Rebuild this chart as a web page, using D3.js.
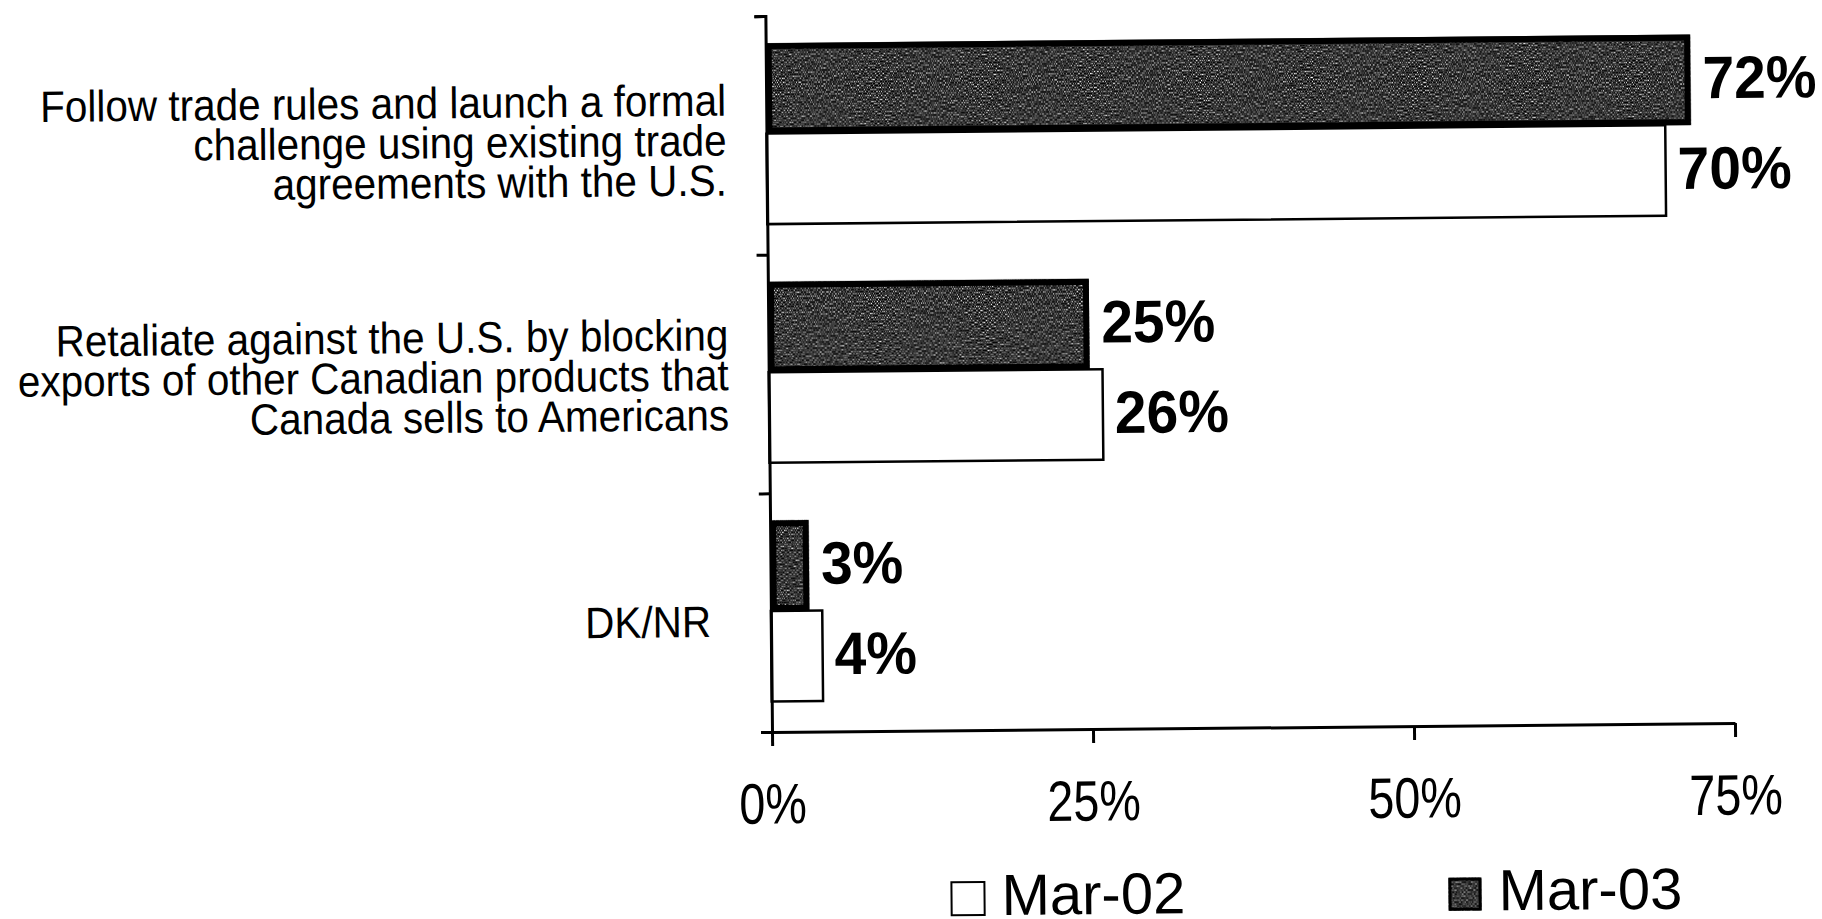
<!DOCTYPE html>
<html>
<head>
<meta charset="utf-8">
<script src="https://cdn.jsdelivr.net/npm/d3@7"></script>
<style>
  html, body { margin: 0; padding: 0; background: #fff; }
  svg { display: block; }
  text { font-family: "Liberation Sans", Arial, sans-serif; fill: #000; }
</style>
</head>
<body>
<svg id="chart" width="1822" height="919"></svg>
<script>
// ---- data ----
const categories = [
  "Follow trade rules and launch a formal|challenge using existing trade|agreements with the U.S.",
  "Retaliate against the U.S. by blocking|exports of other Canadian products that|Canada sells to Americans",
  "DK/NR"
];
const seriesNames = ["Mar-03", "Mar-02"];
const mar03 = [72, 25, 3];
const mar02 = [70, 26, 4];
const tickValues = [0, 25, 50, 75];
const legendItems = ["Mar-02", "Mar-03"];

// ---- layout ----
const plotL = 772, plotR = 1735, plotT = 16, plotB = 732;

const svg = d3.select("#chart");
const defs = svg.append("defs");
const f = defs.append("filter").attr("id", "grain")
  .attr("x", 0).attr("y", 0).attr("width", 1).attr("height", 1)
  .attr("color-interpolation-filters", "sRGB");
f.append("feTurbulence").attr("type", "fractalNoise")
  .attr("baseFrequency", "1.0 0.5").attr("numOctaves", 2).attr("seed", 7).attr("result", "t");
f.append("feColorMatrix").attr("in", "t").attr("type", "matrix")
  .attr("values", "0.6 0.4 0 0 0  0.6 0.4 0 0 0  0.6 0.4 0 0 0  0 0 0 0 1").attr("result", "g");
const ct = f.append("feComponentTransfer").attr("in", "g").attr("result", "c");
["feFuncR", "feFuncG", "feFuncB"].forEach(n =>
  ct.append(n).attr("type", "linear").attr("slope", 4.2).attr("intercept", -1.9));
f.append("feComposite").attr("in", "c").attr("in2", "SourceAlpha").attr("operator", "in");

const g = svg.append("g").attr("transform", `rotate(-0.53 ${plotL} ${plotB})`);

const x = d3.scaleLinear().domain([0, 75]).range([plotL, plotR]);
const y = d3.scaleBand().domain(categories).range([plotT, plotB]).padding(0);
const ys = d3.scaleBand().domain(seriesNames).range([0, y.bandwidth()])
  .paddingInner(0).paddingOuter(0.3187).align(0.47);

const values = { "Mar-03": mar03, "Mar-02": mar02 };

// bars
categories.forEach((c, i) => {
  seriesNames.forEach(s => {
    const v = values[s][i];
    const by = y(c) + ys(s);
    const bh = ys.bandwidth();
    const bw = x(v) - x(0);
    if (s === "Mar-03") {
      g.append("rect").attr("x", x(0)).attr("y", by).attr("width", bw).attr("height", bh)
        .attr("fill", "#fff").attr("filter", "url(#grain)");
      g.append("rect").attr("x", x(0) + 3).attr("y", by + 3).attr("width", bw - 6).attr("height", bh - 6)
        .attr("fill", "none").attr("stroke", "#000").attr("stroke-width", 6);
    } else {
      g.append("rect").attr("x", x(0)).attr("y", by).attr("width", bw).attr("height", bh)
        .attr("fill", "#fff").attr("stroke", "#000").attr("stroke-width", 2.5);
    }
    g.append("text")
      .attr("transform", `translate(${x(v) + 12},${by + bh / 2 - 3}) scale(0.95,1)`)
      .attr("dy", "0.36em")
      .attr("font-size", 60).attr("font-weight", "bold").text(v + "%");
  });
});

// y axis (ticks between categories)
const yb = d3.scaleLinear().domain([0, categories.length]).range([plotB, plotT]);
const yAxis = g.append("g").attr("transform", `translate(${plotL},0)`)
  .call(d3.axisLeft(yb).ticks(categories.length).tickSize(11).tickSizeOuter(11).tickFormat(""));
yAxis.selectAll("path, line").attr("stroke", "#000").attr("stroke-width", 3);

// x axis
const xAxis = g.append("g").attr("transform", `translate(0,${plotB})`)
  .call(d3.axisBottom(x).tickValues(tickValues).tickSize(14).tickSizeOuter(0).tickPadding(37)
    .tickFormat(d => d + "%"));
xAxis.selectAll("path, line").attr("stroke", "#000").attr("stroke-width", 3);
xAxis.selectAll("text")
  .attr("font-size", 57).attr("font-family", "Liberation Sans, Arial, sans-serif").attr("fill", "#000")
  .attr("transform", "scale(0.82,1)");

// category labels
const labelX = [732, 732, 712];
const labelOff = [4, 0, 8];
categories.forEach((c, i) => {
  const lines = c.split("|");
  const lh = 40;
  const cy = y(c) + y.bandwidth() / 2 + labelOff[i];
  const t = g.append("text").attr("text-anchor", "end").attr("font-size", 44)
    .attr("transform", `translate(${labelX[i]},${cy}) scale(0.92,1)`);
  lines.forEach((ln, k) => {
    t.append("tspan").attr("x", 0)
      .attr("y", (k - (lines.length - 1) / 2) * lh).attr("dy", "0.36em").text(ln);
  });
});

// legend
const legX = [950, 1447];
legendItems.forEach((name, i) => {
  const lg = g.append("g").attr("transform", `translate(${legX[i]},0)`);
  if (name === "Mar-03") {
    lg.append("rect").attr("x", 0).attr("y", 884).attr("width", 33).attr("height", 33)
      .attr("fill", "#fff").attr("filter", "url(#grain)");
    lg.append("rect").attr("x", 1.5).attr("y", 885.5).attr("width", 30).attr("height", 30)
      .attr("fill", "none").attr("stroke", "#000").attr("stroke-width", 3);
  } else {
    lg.append("rect").attr("x", 0).attr("y", 884).attr("width", 33).attr("height", 33)
      .attr("fill", "#fff").attr("stroke", "#000").attr("stroke-width", 2);
  }
  lg.append("text").attr("x", 50).attr("y", 917).attr("font-size", 58).text(name);
});
</script>
</body>
</html>
